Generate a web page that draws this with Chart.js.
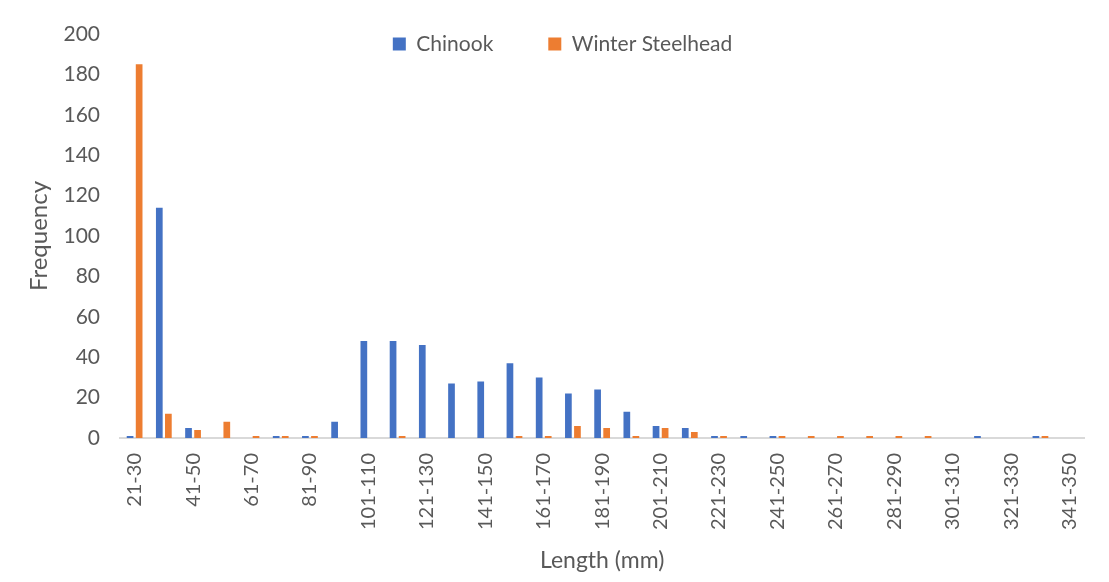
<!DOCTYPE html>
<html>
<head>
<meta charset="utf-8">
<script src="https://cdn.jsdelivr.net/npm/chart.js@4"></script>
<style>
  html, body { margin: 0; padding: 0; background: #fff; }
  #wrap { width: 1109px; height: 582px; }
</style>
</head>
<body>
<div id="wrap"><canvas id="chart" width="1109" height="582"></canvas></div>
<script>
// length classes (mm)
const lengthBins = ['21-30', '31-40', '41-50', '51-60', '61-70', '71-80', '81-90', '91-100',
    '101-110', '111-120', '121-130', '131-140', '141-150', '151-160', '161-170', '171-180',
    '181-190', '191-200', '201-210', '211-220', '221-230', '231-240', '241-250', '251-260',
    '261-270', '271-280', '281-290', '291-300', '301-310', '311-320', '321-330', '331-340', '341-350'];

const chinook = [1, 114, 5, 0, 0, 1, 1, 8, 48, 48, 46, 27, 28, 37, 30, 22,
    24, 13, 6, 5, 1, 1, 1, 0, 0, 0, 0, 0, 0, 1, 0, 1, 0];

const winterSteelhead = [185, 12, 4, 8, 1, 1, 1, 0, 0, 1, 0, 0, 0, 1, 1, 6,
    5, 1, 5, 3, 1, 0, 1, 1, 1, 1, 1, 1, 0, 0, 0, 1, 0];

const yTicks = [0, 20, 40, 60, 80, 100, 120, 140, 160, 180, 200];

const FONT = 'Lato, "Open Sans", sans-serif';
const GREY = '#595959';

// nudge the legend so it sits inside the plot like Excel does
const legendNudge = {
    id: 'legendNudge',
    afterLayout(chart) {
        const lg = chart.legend;
        if (!lg) return;
        const pad = lg.options.labels.padding;
        const fs = lg.options.labels.font.size;
        const dy = 44 - (lg.top + pad + fs / 2);
        lg.top += dy;
        lg.bottom = 70; // legend clips to its own box
        lg.left += 19;
        lg.right += 19;
    }
};

new Chart(document.getElementById('chart'), {
    type: 'bar',
    data: {
        labels: lengthBins,
        datasets: [
            { label: 'Chinook', data: chinook, backgroundColor: '#4472C4' },
            { label: 'Winter Steelhead', data: winterSteelhead, backgroundColor: '#ED7D31' }
        ]
    },
    options: {
        responsive: false,
        animation: false,
        layout: { padding: { left: 0, right: 22, top: 0, bottom: 0 } },
        datasets: { bar: { categoryPercentage: 0.62, barPercentage: 0.74 } },
        plugins: {
            tooltip: { enabled: false },
            legend: {
                position: 'top',
                maxHeight: 34,
                labels: {
                    boxWidth: 13,
                    boxHeight: 13,
                    padding: 55,
                    color: GREY,
                    font: { family: FONT, size: 21 }
                }
            }
        },
        scales: {
            x: {
                grid: { display: false, drawTicks: false },
                border: { color: '#d9d9d9', width: 2 },
                ticks: {
                    autoSkip: false,
                    minRotation: 90,
                    maxRotation: 90,
                    padding: 15,
                    color: GREY,
                    font: { family: FONT, size: 20 },
                    callback: (v, i) => (i % 2 === 0 ? lengthBins[i] : '')
                },
                title: {
                    display: true,
                    text: 'Length (mm)',
                    color: GREY,
                    font: { family: FONT, size: 23 },
                    padding: { top: 0, bottom: 8 }
                },
                afterFit: (scale) => { scale.height = 144; }
            },
            y: {
                min: 0,
                max: 200,
                grid: { display: false, drawTicks: false },
                border: { display: false },
                afterBuildTicks: (scale) => { scale.ticks = yTicks.map(v => ({ value: v })); },
                ticks: {
                    padding: 20,
                    color: GREY,
                    font: { family: FONT, size: 21 }
                },
                title: {
                    display: true,
                    text: 'Frequency',
                    color: GREY,
                    font: { family: FONT, size: 24 },
                    padding: { top: 25, bottom: 0 }
                },
                afterFit: (scale) => { scale.width = 120; }
            }
        }
    },
    plugins: [legendNudge]
});
</script>
</body>
</html>
